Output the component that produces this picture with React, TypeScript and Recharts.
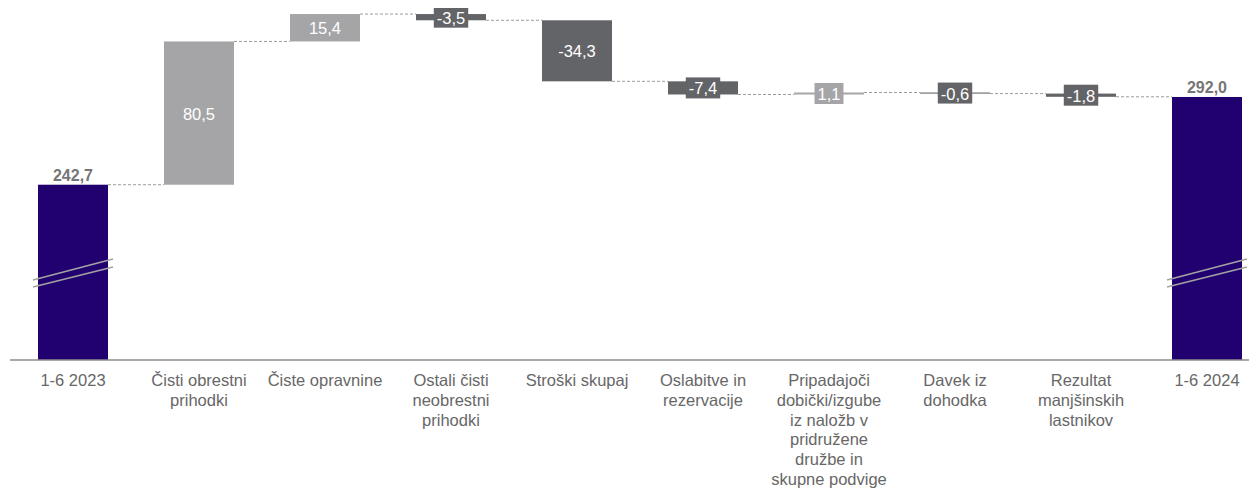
import React from "react";
import { BarChart, Bar, XAxis, YAxis } from "recharts";

const categories = [
  "1-6 2023",
  "Čisti obrestni\nprihodki",
  "Čiste opravnine",
  "Ostali čisti\nneobrestni\nprihodki",
  "Stroški skupaj",
  "Oslabitve in\nrezervacije",
  "Pripadajoči\ndobički/izgube\niz naložb v\npridružene\ndružbe in\nskupne podvige",
  "Davek iz\ndohodka",
  "Rezultat\nmanjšinskih\nlastnikov",
  "1-6 2024",
];

const changes = [242.7, 80.5, 15.4, -3.5, -34.3, -7.4, 1.1, -0.6, -1.8, 292.0];

const kinds = ["total", "up", "up", "down", "down", "down", "up", "down", "down", "total"];

// broken axis: the visible part starts here
const AXIS_MIN = 144.2;
const AXIS_MAX = 342;

const COLORS: Record<string, string> = {
  total: "#21006f",
  up: "#a5a5a8",
  down: "#636467",
};

const FONT = "'Liberation Sans', Arial, sans-serif";
const LABEL_SIZE = 16.5;
const CHART_W = 1262;
const CHART_H = 481;
const MARGIN = { top: 0, right: 0, left: 2, bottom: 0 };
const BAR_SIZE = 70;
const STEP = (CHART_W - MARGIN.left - MARGIN.right) / categories.length;

let running = 0;
const rows = categories.map((name, i) => {
  const kind = kinds[i];
  const delta = changes[i];
  if (kind === "total") {
    running = delta;
    return { name, kind, delta, range: [AXIS_MIN, delta] };
  }
  const start = running;
  running = start + delta;
  return { name, kind, delta, range: [Math.min(start, running), Math.max(start, running)] };
});

const fmt = (v: number) => v.toFixed(1).replace(".", ",");

// rough Arial advance widths, in em
const textWidth = (s: string, size: number) =>
  s.split("").reduce((w, c) => w + (c === "," ? 0.278 : c === "-" ? 0.333 : 0.556), 0) * size;

const WaterfallBar = (props: any) => {
  const { x, y, width, height, payload, index } = props;
  const top = Math.min(y, y + height);
  const bottom = Math.max(y, y + height);
  const kind = payload.kind;
  const color = COLORS[kind];
  const endY = kind === "down" ? bottom : top;
  const label = fmt(payload.delta);
  const mid = (top + bottom) / 2;
  const boxW = textWidth(label, LABEL_SIZE) + 6;
  const cx = x + width / 2;

  return (
    <g>
      <rect x={x} y={top} width={width} height={bottom - top} fill={color} />
      {index < rows.length - 1 && (
        <line
          x1={x + width}
          x2={x + STEP}
          y1={endY}
          y2={endY}
          stroke="#9b9b9b"
          strokeWidth={1}
          strokeDasharray="3 2"
        />
      )}
      {kind === "total" ? (
        <>
          <line x1={x - 5} y1={bottom - 80} x2={x + width + 5} y2={bottom - 101} stroke="#a3a3a3" strokeWidth={1.5} />
          <line x1={x - 5} y1={bottom - 73} x2={x + width + 5} y2={bottom - 93} stroke="#a3a3a3" strokeWidth={1.5} />
          <text x={cx} y={top - 4} textAnchor="middle" fontFamily={FONT} fontSize={16} fontWeight="bold" fill="#767676">
            {label}
          </text>
        </>
      ) : (
        <>
          <rect x={cx - boxW / 2} y={mid - 10.5} width={boxW} height={21} fill={color} />
          <text x={cx} y={mid + 6.5} textAnchor="middle" fontFamily={FONT} fontSize={LABEL_SIZE} fill="#ffffff">
            {label}
          </text>
        </>
      )}
    </g>
  );
};

const CategoryTick = (props: any) => {
  const { x, y, payload } = props;
  const lines = String(payload.value).split("\n");
  return (
    <text x={x} y={y} textAnchor="middle" fontFamily={FONT} fontSize={16.5} fill="#676767">
      {lines.map((line, i) => (
        <tspan key={i} x={x} dy={i === 0 ? 26 : 19.8}>
          {line}
        </tspan>
      ))}
    </text>
  );
};

export default function App() {
  return (
    <div style={{ width: 1249, height: CHART_H, overflow: "hidden" }}>
      <BarChart width={CHART_W} height={CHART_H} data={rows} margin={MARGIN} barSize={BAR_SIZE}>
        <XAxis
          dataKey="name"
          interval={0}
          height={CHART_H - 352}
          tickLine={false}
          tickSize={0}
          tickMargin={0}
          axisLine={{ stroke: "#8c8c8c", strokeWidth: 1.5 }}
          tick={<CategoryTick />}
        />
        <YAxis hide domain={[AXIS_MIN, AXIS_MAX]} allowDataOverflow />
        <Bar dataKey="range" shape={<WaterfallBar />} isAnimationActive={false} />
      </BarChart>
    </div>
  );
}
